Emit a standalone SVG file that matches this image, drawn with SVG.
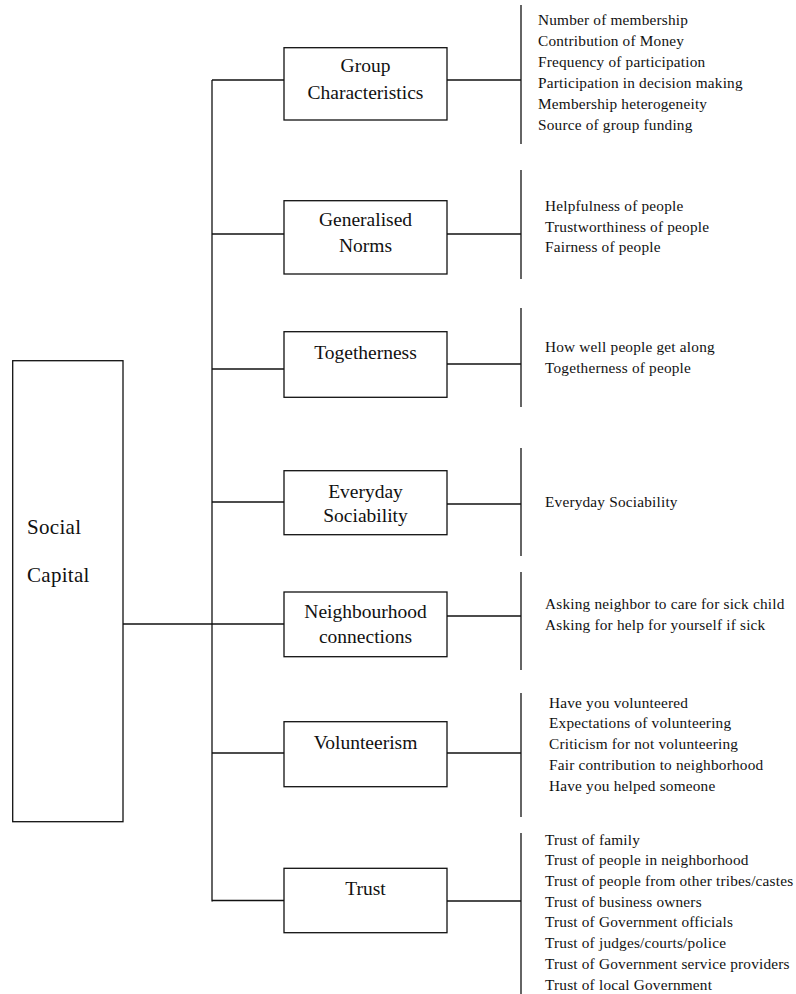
<svg xmlns="http://www.w3.org/2000/svg" width="796" height="994" viewBox="0 0 796 994">
<style>
.box{fill:#fff;stroke:#111;stroke-width:1.3}
.ln{stroke:#111;stroke-width:1.3;fill:none}
.lbl{font-family:"Liberation Serif","Times New Roman",serif;font-size:19.5px;fill:#111;text-anchor:middle}
.root{font-family:"Liberation Serif","Times New Roman",serif;font-size:21px;fill:#111}
.li{font-family:"Liberation Serif","Times New Roman",serif;font-size:15.3px;letter-spacing:0.2px;fill:#111}
</style>
<rect width="796" height="994" fill="#fff"/>
<g id="connectors">
<line class="ln" x1="212" y1="80" x2="212" y2="901.5"/>
<line class="ln" x1="123" y1="624" x2="212" y2="624"/>
<line class="ln" x1="212" y1="80" x2="284" y2="80"/>
<line class="ln" x1="212" y1="234" x2="284" y2="234"/>
<line class="ln" x1="212" y1="369" x2="284" y2="369"/>
<line class="ln" x1="212" y1="502" x2="284" y2="502"/>
<line class="ln" x1="212" y1="624" x2="284" y2="624"/>
<line class="ln" x1="212" y1="753" x2="284" y2="753"/>
<line class="ln" x1="212" y1="900.5" x2="284" y2="900.5"/>
<line class="ln" x1="447" y1="80" x2="521" y2="80"/>
<line class="ln" x1="447" y1="234" x2="521" y2="234"/>
<line class="ln" x1="447" y1="364" x2="521" y2="364"/>
<line class="ln" x1="447" y1="504" x2="521" y2="504"/>
<line class="ln" x1="447" y1="616" x2="521" y2="616"/>
<line class="ln" x1="447" y1="753" x2="521" y2="753"/>
<line class="ln" x1="447" y1="901" x2="521" y2="901"/>
<line class="ln" x1="521" y1="5" x2="521" y2="144"/>
<line class="ln" x1="521" y1="170" x2="521" y2="279"/>
<line class="ln" x1="521" y1="308" x2="521" y2="407"/>
<line class="ln" x1="521" y1="448" x2="521" y2="556"/>
<line class="ln" x1="521" y1="572" x2="521" y2="670"/>
<line class="ln" x1="521" y1="693" x2="521" y2="817"/>
<line class="ln" x1="521" y1="833" x2="521" y2="994"/>
</g>
<g id="social-capital">
<rect class="box" x="12.7" y="360.7" width="110.3" height="461"/>
<text class="root" x="27" y="534" letter-spacing="0.3">Social</text>
<text class="root" x="27" y="582" letter-spacing="0.3">Capital</text>
</g>
<g id="group-characteristics">
<rect class="box" x="284" y="47.7" width="163" height="72.3"/>
<text class="lbl" x="365.5" y="72">Group</text>
<text class="lbl" x="365.5" y="99">Characteristics</text>
</g>
<g id="generalised-norms">
<rect class="box" x="284" y="200.7" width="163" height="73.3"/>
<text class="lbl" x="365.5" y="226">Generalised</text>
<text class="lbl" x="365.5" y="252">Norms</text>
</g>
<g id="togetherness">
<rect class="box" x="284" y="331.7" width="163" height="65.6"/>
<text class="lbl" x="365.5" y="359">Togetherness</text>
</g>
<g id="everyday-sociability">
<rect class="box" x="284" y="470.7" width="163" height="64"/>
<text class="lbl" x="365.5" y="498">Everyday</text>
<text class="lbl" x="365.5" y="522">Sociability</text>
</g>
<g id="neighbourhood-connections">
<rect class="box" x="284" y="592" width="163" height="64.7"/>
<text class="lbl" x="365.5" y="618">Neighbourhood</text>
<text class="lbl" x="365.5" y="643">connections</text>
</g>
<g id="volunteerism">
<rect class="box" x="284" y="721.7" width="163" height="65"/>
<text class="lbl" x="365.5" y="749">Volunteerism</text>
</g>
<g id="trust">
<rect class="box" x="284" y="868.3" width="163" height="64.4"/>
<text class="lbl" x="365.5" y="895">Trust</text>
</g>
<g id="group-items">
<text class="li" x="538" y="25">Number of membership</text>
<text class="li" x="538" y="46">Contribution of Money</text>
<text class="li" x="538" y="67">Frequency of participation</text>
<text class="li" x="538" y="88">Participation in decision making</text>
<text class="li" x="538" y="109">Membership heterogeneity</text>
<text class="li" x="538" y="130">Source of group funding</text>
</g>
<g id="norms-items">
<text class="li" x="545" y="211">Helpfulness of people</text>
<text class="li" x="545" y="232">Trustworthiness of people</text>
<text class="li" x="545" y="252">Fairness of people</text>
</g>
<g id="togetherness-items">
<text class="li" x="545" y="352">How well people get along</text>
<text class="li" x="545" y="373">Togetherness of people</text>
</g>
<g id="sociability-items">
<text class="li" x="545" y="507">Everyday Sociability</text>
</g>
<g id="neighbourhood-items">
<text class="li" x="545" y="609">Asking neighbor to care for sick child</text>
<text class="li" x="545" y="630">Asking for help for yourself if sick</text>
</g>
<g id="volunteerism-items">
<text class="li" x="549" y="708">Have you volunteered</text>
<text class="li" x="549" y="728">Expectations of volunteering</text>
<text class="li" x="549" y="749">Criticism for not volunteering</text>
<text class="li" x="549" y="770">Fair contribution to neighborhood</text>
<text class="li" x="549" y="791">Have you helped someone</text>
</g>
<g id="trust-items">
<text class="li" x="545" y="845">Trust of family</text>
<text class="li" x="545" y="865">Trust of people in neighborhood</text>
<text class="li" x="545" y="886">Trust of people from other tribes/castes</text>
<text class="li" x="545" y="907">Trust of business owners</text>
<text class="li" x="545" y="927">Trust of Government officials</text>
<text class="li" x="545" y="948">Trust of judges/courts/police</text>
<text class="li" x="545" y="969">Trust of Government service providers</text>
<text class="li" x="545" y="990">Trust of local Government</text>
</g>
</svg>
